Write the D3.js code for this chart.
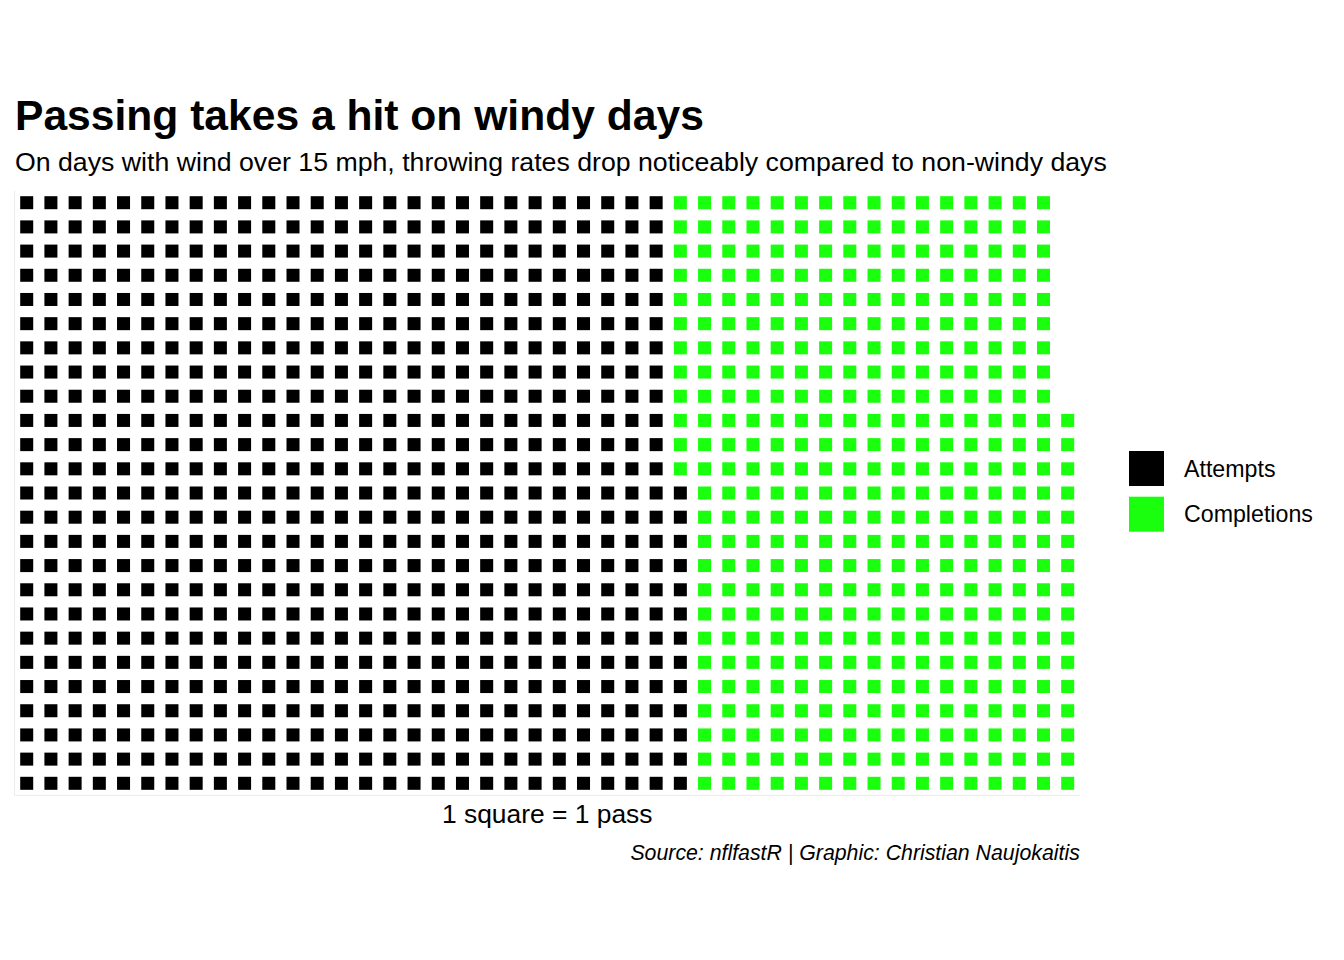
<!DOCTYPE html>
<html>
<head>
<meta charset="utf-8">
<script src="https://cdn.jsdelivr.net/npm/d3@7"></script>
<style>
  html, body { margin: 0; padding: 0; background: #ffffff; }
  svg { display: block; font-family: "Liberation Sans", Arial, Helvetica, sans-serif; }
</style>
</head>
<body>
<svg id="chart" width="1344" height="960"></svg>
<script>
// ---- data ----
const categories = ["Attempts", "Completions"];
const values = [688, 403];
const colors = ["#000000", "#1aff0d"];
const nRows = 25;
const titleText = "Passing takes a hit on windy days";
const subtitleText = "On days with wind over 15 mph, throwing rates drop noticeably compared to non-windy days";
const xLabelText = "1 square = 1 pass";
const captionText = "Source: nflfastR | Graphic: Christian Naujokaitis";

// ---- layout ----
const W = 1344, H = 960;
const panel = { left: 14.6, right: 1079.8, top: 190.6, bottom: 795.4 };
const total = d3.sum(values);
const nCols = Math.ceil(total / nRows);

const svg = d3.select("#chart");
svg.append("rect").attr("width", W).attr("height", H).attr("fill", "#ffffff");

// build cells column-wise, filling each column from the bottom up
const cum = Array.from(d3.cumsum(values));
const cells = d3.range(total).map(i => {
  const cat = categories[d3.bisectRight(cum, i)];
  return { col: Math.floor(i / nRows), row: i % nRows, cat };
});

const x = d3.scaleBand().domain(d3.range(nCols)).range([panel.left, panel.right]);
const y = d3.scaleBand().domain(d3.range(nRows)).range([panel.bottom, panel.top]);
const color = d3.scaleOrdinal().domain(categories).range(colors);

const bw = x.bandwidth();
const gap = 11.2;
const sq = bw - gap;

// faint panel edges
const edge = svg.append("g").attr("stroke", "#ececec").attr("stroke-width", 1).attr("fill", "none");
edge.append("line").attr("x1", panel.left).attr("x2", panel.left).attr("y1", panel.top).attr("y2", panel.bottom);
edge.append("line").attr("x1", panel.left).attr("x2", panel.right).attr("y1", panel.bottom).attr("y2", panel.bottom);

svg.append("g").selectAll("rect").data(cells).join("rect")
  .attr("x", d => x(d.col) + gap / 2)
  .attr("y", d => y(d.row) + gap / 2)
  .attr("width", sq)
  .attr("height", sq)
  .attr("fill", d => color(d.cat));

// ---- titles ----
svg.append("text").attr("x", 15).attr("y", 129.5)
  .attr("font-size", 42.6).attr("font-weight", "bold").attr("fill", "#000")
  .text(titleText);
svg.append("text").attr("x", 15).attr("y", 170.5)
  .attr("font-size", 26.7).attr("fill", "#000")
  .text(subtitleText);

svg.append("text").attr("x", (panel.left + panel.right) / 2).attr("y", 823)
  .attr("text-anchor", "middle").attr("font-size", 26.4).attr("fill", "#000")
  .text(xLabelText);

svg.append("text").attr("x", panel.right).attr("y", 860)
  .attr("text-anchor", "end").attr("font-size", 21.3).attr("font-style", "italic").attr("fill", "#000")
  .text(captionText);

// ---- legend ----
const legend = svg.append("g");
const leg = legend.selectAll("g").data(categories).join("g")
  .attr("transform", (d, i) => `translate(1129, ${451 + i * 45.7})`);
leg.append("rect").attr("width", 35).attr("height", 35).attr("fill", d => color(d));
leg.append("text").attr("x", 55).attr("y", 25.7)
  .attr("font-size", 23.2).attr("fill", "#000")
  .text(d => d);
</script>
</body>
</html>
